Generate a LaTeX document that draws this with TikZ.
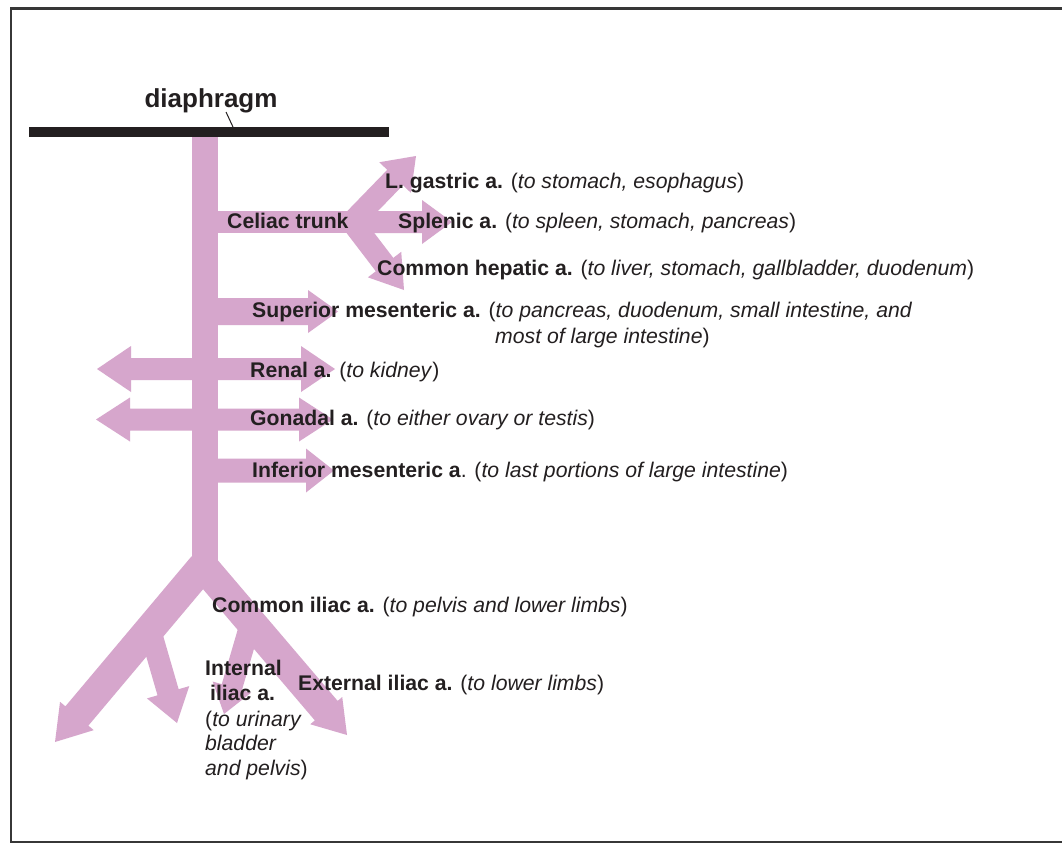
\documentclass[tikz,border=0pt]{standalone}
\usepackage{fontspec}
\setmainfont{Liberation Sans}
\usetikzlibrary{calc}
\definecolor{artery}{RGB}{214,166,204}
\definecolor{ink}{RGB}{35,31,32}
\definecolor{framecol}{RGB}{55,55,55}
% single-headed fat arrow: #1 name, #2 start, #3 tip, #4 half shaft, #5 head length, #6 half head width
\newcommand\fatarrow[6]{%
  \coordinate (#1-s) at (#2);
  \coordinate (#1-t) at (#3);
  \coordinate (#1-m) at ($(#1-t)!#5!(#1-s)$);
  \fill[artery] ($(#1-s)!#4!90:(#1-t)$) -- ($(#1-m)!#4!90:(#1-t)$) -- ($(#1-m)!#6!90:(#1-t)$) -- (#1-t) -- ($(#1-m)!#6!-90:(#1-t)$) -- ($(#1-m)!#4!-90:(#1-t)$) -- ($(#1-s)!#4!-90:(#1-t)$) -- cycle;
}
% double-headed fat arrow
\newcommand\fatdouble[6]{%
  \coordinate (#1-s) at (#2);
  \coordinate (#1-t) at (#3);
  \coordinate (#1-a) at ($(#1-s)!#5!(#1-t)$);
  \coordinate (#1-b) at ($(#1-t)!#5!(#1-s)$);
  \fill[artery] (#1-s) -- ($(#1-a)!#6!90:(#1-t)$) -- ($(#1-a)!#4!90:(#1-t)$) -- ($(#1-b)!#4!90:(#1-t)$) -- ($(#1-b)!#6!90:(#1-t)$) -- (#1-t) -- ($(#1-b)!#6!-90:(#1-t)$) -- ($(#1-b)!#4!-90:(#1-t)$) -- ($(#1-a)!#4!-90:(#1-t)$) -- ($(#1-a)!#6!-90:(#1-t)$) -- cycle;
}
\tikzset{
  lbl/.style={anchor=base west, inner sep=0pt, text=ink, font=\fontsize{21.2}{25}\selectfont},
  framebox/.style={draw=framecol, line width=2.5pt},
}
\begin{document}
\begin{tikzpicture}[x=1pt,y=-1pt]
\useasboundingbox (0,0) rectangle (1062,843);
\fill[white] (0,0) rectangle (1062,843);
\draw[framebox] (1070,8.5) -- (11,8.5) -- (11,842) -- (1070,842);

% aorta trunk
\fill[artery] (192,137) rectangle (218,576);
% celiac trunk bar
\fill[artery] (205,211) rectangle (352,233);
\fatarrow{splenic}{350,222}{452,222}{11pt}{30pt}{22pt}
\fatarrow{gastric}{352,222}{416,156}{11pt}{30pt}{22pt}
\fatarrow{hepatic}{352,222}{404,290}{11pt}{32pt}{21pt}
% superior mesenteric
\fatarrow{supmes}{210,311.5}{338,311.5}{13.5pt}{30pt}{21.5pt}
% renal and gonadal
\fatdouble{renal}{97,369}{335,369}{11pt}{34pt}{23pt}
\fatdouble{gonadal}{96,419.5}{333,419.5}{11pt}{34pt}{22pt}
% inferior mesenteric
\fatarrow{infmes}{210,470.5}{334,470.5}{12pt}{28pt}{22pt}
% common iliacs
\fatarrow{lcil}{203,566}{55,742}{15pt}{34pt}{22pt}
\fatarrow{rcil}{203,566}{347,735}{15pt}{32pt}{21pt}
% internal iliacs
\fatarrow{liil}{150,630}{177,723}{11pt}{32pt}{22pt}
\fatarrow{riil}{250,625}{224,714}{10.5pt}{28pt}{20pt}

% diaphragm
\fill[ink] (29,127) rectangle (389,137);
\coordinate (lead-a) at (226,112);
\coordinate (lead-b) at (233,127);
\node[anchor=base, inner sep=0pt, text=ink, font=\fontsize{26}{30}\selectfont\bfseries] (diaph) at (211,107) {diaphragm};
\draw[ink, line width=1pt] (lead-a) -- (lead-b);

% labels
\node[lbl] (celiac) at (227,228) {\textbf{Celiac trunk}};
\node[lbl] (gastricL) at (385,188) {\textbf{L. gastric a.} (\textit{to stomach, esophagus})};
\node[lbl] (splenicL) at (398,228) {\textbf{Splenic a.} (\textit{to spleen, stomach, pancreas})};
\node[lbl] (hepaticL) at (377,275) {\textbf{Common hepatic a.} (\textit{to liver, stomach, gallbladder, duodenum})};
\node[lbl] (supmesL) at (252,317) {\textbf{Superior mesenteric a.} (\textit{to pancreas, duodenum, small intestine, and}};
\node[lbl] (supmesL2) at (495,343) {\textit{most of large intestine})};
\node[lbl] (renalL) at (250,377) {\textbf{Renal a.} (\textit{to kidney})};
\node[lbl] (gonadalL) at (250,425) {\textbf{Gonadal a.} (\textit{to either ovary or testis})};
\node[lbl] (infmesL) at (252,477) {\textbf{Inferior mesenteric a}. (\textit{to last portions of large intestine})};
\node[lbl] (cilL) at (212,612) {\textbf{Common iliac a.} (\textit{to pelvis and lower limbs})};
\node[lbl] (iil1) at (205,675) {\textbf{Internal}};
\node[lbl] (iil2) at (210,700) {\textbf{iliac a.}};
\node[lbl] (iil3) at (205,726) {(\textit{to urinary}};
\node[lbl] (iil4) at (205,750) {\textit{bladder}};
\node[lbl] (iil5) at (205,775) {\textit{and pelvis})};
\node[lbl] (eilL) at (298,690) {\textbf{External iliac a.} (\textit{to lower limbs})};
\end{tikzpicture}
\end{document}
